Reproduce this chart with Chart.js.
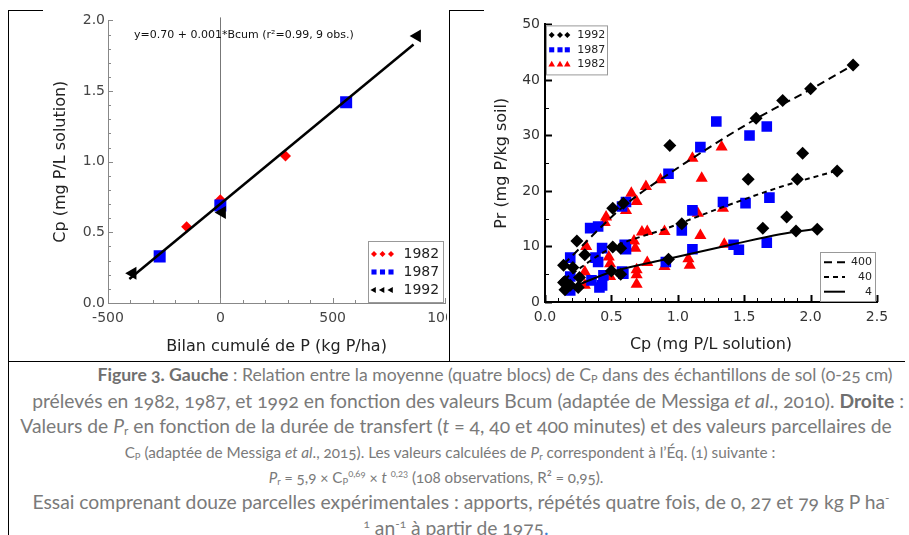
<!DOCTYPE html>
<html>
<head>
<meta charset="utf-8">
<script src="https://cdn.jsdelivr.net/npm/chart.js@4.4.1/dist/chart.umd.min.js"></script>
<style>
  html, body { margin: 0; padding: 0; background: #fff; }
  #page { position: relative; width: 909px; height: 535px; overflow: hidden; background: #fff; }
  .rule { position: absolute; background: #000; }
  .panel { position: absolute; overflow: hidden; }
  canvas { display: block; }
  .cap { position: absolute; white-space: nowrap; font-family: Lato, 'Open Sans', sans-serif; font-size: 17.5px; line-height: 26px; color: #7a7a7a; font-variant-numeric: oldstyle-nums; }
  .cap b { font-weight: 700; color: #6f6f6f; }
  .cap sub, .cap sup { font-size: 0.62em; line-height: 0; }
  .cap sub { vertical-align: -0.2em; }
  .cap sup { vertical-align: 0.6em; }
</style>
</head>
<body>
<div id="page">
  <div class="rule" style="left:8px;top:10px;width:35px;height:1px"></div>
  <div class="rule" style="left:8px;top:10px;width:1px;height:525px"></div>
  <div class="rule" style="left:449px;top:10px;width:1px;height:351px"></div>
  <div class="rule" style="left:449px;top:10px;width:35px;height:1px"></div>
  <div class="rule" style="left:8px;top:361px;width:897px;height:1px"></div>

  <div class="panel" style="left:9px;top:9px;width:438px;height:350px"><canvas id="leftChart" width="462" height="350"></canvas></div>
  <div class="panel" style="left:450px;top:11px;width:459px;height:349px"><canvas id="rightChart" width="453" height="349"></canvas></div>

  <div class="cap" data-c="495" data-w="796" data-own="1" style="top:362px"><b>Figure 3. Gauche</b> : Relation entre la moyenne (quatre blocs) de C<sub>P</sub> dans des échantillons de sol (0-25 cm)</div>
  <div class="cap" data-c="474" data-w="846" data-ref="1" style="top:388px">prélevés en 1982, 1987, et 1992 en fonction des valeurs Bcum (adaptée de Messiga <i>et al</i>., 2010). <b>Droite</b> :</div>
  <div class="cap" data-c="456" data-w="893" data-ref="1" style="top:413px">Valeurs de <i>P</i><sub>r</sub> en fonction de la durée de transfert (<i>t</i> = 4, 40 et 400 minutes) et des valeurs parcellaires de</div>
  <div class="cap" data-c="450" data-w="651" data-own="1" style="top:439px">C<sub>P</sub> (adaptée de Messiga <i>et al</i>., 2015). Les valeurs calculées de <i>P</i><sub>r</sub> correspondent à l’Éq. (1) suivante :</div>
  <div class="cap" data-c="436" data-w="335" data-own="1" style="top:464px"><i>P</i><sub>r</sub> = 5,9 × C<sub>P</sub><sup>0,69</sup> × <i>t</i> <sup>0,23</sup> (108 observations, R² = 0,95).</div>
  <div class="cap" data-c="461" data-w="863" data-ref="1" style="top:489px">Essai comprenant douze parcelles expérimentales : apports, répétés quatre fois, de 0, 27 et 79 kg P ha<sup>-</sup></div>
  <div class="cap" data-c="456" style="top:515px"><sup>1</sup> an<sup>-1</sup> à partir de 1975<span style="color:#3b7fd4">.</span></div>
</div>

<script>
// ---- left panel: mean Cp vs cumulative P balance ----
const bcum1982 = [-150, 0, 290];
const cp1982 = [0.54, 0.73, 1.04];
const bcum1987 = [-270, 0, 560];
const cp1987 = [0.33, 0.69, 1.42];
const bcum1992 = [-390, 8, 876];
const cp1992 = [0.21, 0.64, 1.89];
const fitBcum = [-405, 860];
const fitCp = [0.17, 1.83];
const fitText = 'y=0.70 + 0.001*Bcum (r²=0.99, 9 obs.)';
const bcumTicks = [-500, 0, 500, 1000];
const cpTicksLeft = [0, 0.5, 1.0, 1.5, 2.0];

// ---- right panel: Pr vs Cp per plot ----
const plotCp1992 = [2.32, 2.00, 1.79, 1.59, 0.94, 0.59, 0.51, 0.24, 0.14, 0.21,
                    2.20, 1.94, 1.90, 1.53, 1.03, 0.57, 0.51, 0.30, 0.15,
                    2.05, 1.89, 1.82, 1.64, 0.93, 0.57, 0.50, 0.26, 0.25, 0.19, 0.14, 0.15];
const plotPr1992 = [42.7, 38.4, 36.3, 33.1, 28.2, 17.8, 16.9, 11.0, 6.6, 6.2,
                    23.6, 26.8, 22.1, 22.1, 14.1, 9.7, 9.9, 8.5, 3.7,
                    13.1, 12.8, 15.3, 13.3, 7.7, 5.0, 5.6, 4.4, 2.6, 3.0, 3.5, 2.2];
const plotCp1987 = [1.29, 1.54, 1.67, 1.17, 0.93, 0.61, 0.58, 0.40, 0.34, 0.19,
                    1.69, 1.51, 1.34, 1.11, 1.03, 0.61, 0.60, 0.43, 0.38, 0.40, 0.19,
                    1.67, 1.46, 1.42, 1.11, 0.91, 0.59, 0.58, 0.44, 0.43, 0.35, 0.41, 0.19, 0.17];
const plotPr1987 = [32.5, 30.0, 31.6, 27.9, 23.1, 18.0, 17.2, 13.6, 13.3, 8.0,
                    18.8, 17.8, 18.0, 16.5, 12.9, 9.5, 10.3, 9.7, 8.0, 7.2, 4.6,
                    10.7, 9.4, 10.3, 9.5, 7.2, 5.1, 5.5, 4.8, 3.0, 3.9, 2.6, 2.1, 3.3];
const plotCp1982 = [1.33, 1.11, 0.87, 0.76, 0.65, 0.69, 0.61, 0.46, 0.45, 0.31,
                    1.18, 1.34, 1.15, 1.17, 0.90, 0.77, 0.73, 0.67, 0.68, 0.48, 0.30,
                    1.35, 1.08, 1.09, 0.77, 0.69, 0.69, 0.69, 0.90, 0.49, 0.49, 0.30];
const plotPr1982 = [27.9, 25.9, 22.0, 20.8, 19.6, 18.1, 16.5, 15.3, 14.3, 10.0,
                    22.3, 16.9, 16.0, 12.0, 12.7, 12.7, 12.6, 11.0, 9.7, 8.1, 5.4,
                    10.4, 7.8, 6.6, 7.1, 5.8, 4.9, 3.2, 6.4, 4.6, 6.9, 3.0];
const curve400Cp = [0.14, 0.60, 0.94, 1.59, 2.00, 2.33];
const curve400Pr = [6.8, 17.4, 23.2, 33.0, 38.3, 42.8];
const curve40Cp = [0.15, 0.49, 0.92, 1.34, 1.77, 2.22];
const curve40Pr = [4.2, 9.6, 13.3, 17.1, 20.7, 23.8];
const curve4Cp = [0.26, 0.50, 0.93, 1.40, 1.77, 2.05];
const curve4Pr = [3.2, 5.4, 7.8, 10.3, 12.2, 13.2];
const cpTicksRight = [0, 0.5, 1.0, 1.5, 2.0, 2.5];
const prTicks = [0, 10, 20, 30, 40, 50];

Chart.defaults.font.family = "'DejaVu Sans', Verdana, sans-serif";
Chart.defaults.animation = false;

function pairs(xs, ys) {
    return xs.map((x, i) => ({ x: x, y: ys[i] }));
}

// inward tick marks with minor steps (Chart.js has no minor ticks)
function tickMarks(cfg) {
    return {
        id: 'tickMarks',
        afterDatasetsDraw(chart) {
            const { ctx, chartArea: a, scales } = chart;
            ctx.save();
            ctx.strokeStyle = cfg.color;
            ['x', 'y'].forEach(k => {
                const s = scales[k], c = cfg[k];
                const n = Math.round((s.max - s.min) / c.minor);
                for (let i = 0; i <= n; i++) {
                    const v = s.min + i * c.minor;
                    const r = v / c.major;
                    const major = Math.abs(r - Math.round(r)) < 1e-6;
                    const len = major ? c.majorLen : c.minorLen;
                    ctx.lineWidth = major ? cfg.majorWidth : cfg.minorWidth;
                    const p = Math.round(s.getPixelForValue(v)) + 0.5;
                    ctx.beginPath();
                    if (k === 'x') { ctx.moveTo(p, a.bottom); ctx.lineTo(p, a.bottom - len); }
                    else { ctx.moveTo(a.left, p); ctx.lineTo(a.left + len, p); }
                    ctx.stroke();
                }
            });
            ctx.restore();
        }
    };
}

// boxed legends, three little markers (or a line sample) per entry
function boxLegends(boxes) {
    return {
        id: 'boxLegends',
        afterDraw(chart) {
            const { ctx, chartArea: a } = chart;
            boxes.forEach(b => {
                const left = b.right ? a.right - b.right - b.width : a.left + b.left;
                const top = b.bottom !== undefined ? a.bottom - b.bottom - b.height : a.top + b.top;
                ctx.save();
                ctx.fillStyle = '#fff';
                ctx.fillRect(left, top, b.width, b.height);
                ctx.strokeStyle = '#999';
                ctx.lineWidth = 1;
                ctx.strokeRect(left + 0.5, top + 0.5, b.width - 1, b.height - 1);
                ctx.font = b.font;
                ctx.textBaseline = 'middle';
                b.datasets.forEach((di, i) => {
                    const ds = chart.data.datasets[di];
                    const cy = top + b.row0 + i * b.rowGap;
                    if (b.lines) {
                        ctx.strokeStyle = '#000';
                        ctx.lineWidth = 2;
                        ctx.setLineDash(ds.borderDash || []);
                        ctx.beginPath();
                        ctx.moveTo(left + b.lineFrom, cy);
                        ctx.lineTo(left + b.lineTo, cy);
                        ctx.stroke();
                        ctx.setLineDash([]);
                        ctx.textAlign = 'right';
                        ctx.fillStyle = '#222';
                        ctx.fillText(ds.label, left + b.textX, cy);
                    } else {
                        ctx.fillStyle = ds.pointBackgroundColor;
                        b.marks.forEach(mx => {
                            Chart.helpers.drawPoint(ctx, {
                                pointStyle: ds.pointStyle,
                                rotation: ds.pointRotation || 0,
                                radius: b.markRadius[ds.pointStyle],
                                borderWidth: 0
                            }, left + mx, cy);
                        });
                        ctx.textAlign = 'left';
                        ctx.fillStyle = '#222';
                        ctx.fillText(ds.label, left + b.textX, cy);
                    }
                });
                ctx.restore();
            });
        }
    };
}

const zeroLine = {
    id: 'zeroLine',
    beforeDatasetsDraw(chart) {
        const { ctx, chartArea: a, scales: { x } } = chart;
        const p = Math.round(x.getPixelForValue(0)) + 0.5;
        ctx.save();
        ctx.strokeStyle = '#777';
        ctx.lineWidth = 1;
        ctx.beginPath();
        ctx.moveTo(p, a.top - 3);
        ctx.lineTo(p, a.bottom);
        ctx.stroke();
        ctx.restore();
    }
};

const fitLabel = {
    id: 'fitLabel',
    afterDatasetsDraw(chart) {
        const { ctx, chartArea: a } = chart;
        ctx.save();
        ctx.font = "11px 'DejaVu Sans'";
        ctx.fillStyle = '#111';
        ctx.textBaseline = 'middle';
        ctx.fillText(fitText, a.left + 26, a.top + 14.5);
        ctx.restore();
    }
};

let leftChart = new Chart(document.getElementById('leftChart'), {
    type: 'scatter',
    data: {
        datasets: [
            { label: 'fit', data: pairs(fitBcum, fitCp), showLine: true, borderColor: '#000', borderWidth: 2.5, pointRadius: 0, order: 0 },
            { label: '1992', data: pairs(bcum1992, cp1992), pointStyle: 'triangle', pointRotation: -90, pointRadius: 7.5,
              pointBackgroundColor: '#000', pointBorderWidth: 0, order: 1 },
            { label: '1987', data: pairs(bcum1987, cp1987), pointStyle: 'rect', pointRadius: 8.5,
              pointBackgroundColor: '#0000ff', pointBorderWidth: 0, order: 2 },
            { label: '1982', data: pairs(bcum1982, cp1982), pointStyle: 'rectRot', pointRadius: 5.5,
              pointBackgroundColor: '#ff0000', pointBorderWidth: 0, order: 3 },
        ]
    },
    options: {
        responsive: false,
        layout: { padding: { left: 0, top: 10, right: 26, bottom: 0 } },
        plugins: { legend: { display: false }, tooltip: { enabled: false } },
        scales: {
            x: {
                type: 'linear', min: -500, max: 1000,
                afterBuildTicks: s => { s.ticks = bcumTicks.map(v => ({ value: v })); },
                afterFit: s => { s.height = 56; },
                grid: { display: false, drawTicks: false },
                border: { color: '#888', width: 1 },
                ticks: { padding: 7, color: '#444', font: { size: 14 }, maxRotation: 0, autoSkip: false, callback: v => String(v) },
                title: { display: true, text: 'Bilan cumulé de P (kg P/ha)', color: '#222', font: { size: 16 }, padding: { top: 0, bottom: 3 } }
            },
            y: {
                type: 'linear', min: 0, max: 2,
                afterBuildTicks: s => { s.ticks = cpTicksLeft.map(v => ({ value: v })); },
                afterFit: s => { s.width = 99; },
                grid: { display: false, drawTicks: false },
                border: { color: '#888', width: 1 },
                ticks: { padding: 3, color: '#444', font: { size: 14 }, autoSkip: false, callback: v => v.toFixed(1) },
                title: { display: true, text: 'Cp (mg P/L solution)', color: '#222', font: { size: 16 }, padding: { top: 42, bottom: 0 } }
            }
        }
    },
    plugins: [
        zeroLine,
        fitLabel,
        tickMarks({ color: '#888', majorWidth: 1, minorWidth: 1,
                    x: { minor: 100, major: 500, majorLen: 5, minorLen: 3 },
                    y: { minor: 0.1, major: 0.5, majorLen: 5, minorLen: 3 } }),
        boxLegends([{ right: 1, bottom: 0, width: 76, height: 62, font: "14px 'DejaVu Sans'",
                      datasets: [3, 2, 1], row0: 13, rowGap: 18, marks: [6, 14.5, 23], textX: 35.5,
                      markRadius: { rectRot: 3, rect: 3.6, triangle: 3.6 } }])
    ]
});

let rightChart = new Chart(document.getElementById('rightChart'), {
    type: 'scatter',
    data: {
        datasets: [
            { label: '400', data: pairs(curve400Cp, curve400Pr), showLine: true, borderColor: '#000', borderWidth: 2,
              borderDash: [8, 5], pointRadius: 0, cubicInterpolationMode: 'monotone', order: 0 },
            { label: '40', data: pairs(curve40Cp, curve40Pr), showLine: true, borderColor: '#000', borderWidth: 2,
              borderDash: [5, 4], pointRadius: 0, cubicInterpolationMode: 'monotone', order: 0 },
            { label: '4', data: pairs(curve4Cp, curve4Pr), showLine: true, borderColor: '#000', borderWidth: 2,
              pointRadius: 0, cubicInterpolationMode: 'monotone', order: 0 },
            { label: '1992', data: pairs(plotCp1992, plotPr1992), pointStyle: 'rectRot', pointRadius: 6.5,
              pointBackgroundColor: '#000', pointBorderWidth: 0, order: 1 },
            { label: '1987', data: pairs(plotCp1987, plotPr1987), pointStyle: 'rect', pointRadius: 7.5,
              pointBackgroundColor: '#0000ff', pointBorderWidth: 0, order: 2 },
            { label: '1982', data: pairs(plotCp1982, plotPr1982), pointStyle: 'triangle', pointRadius: 7,
              pointBackgroundColor: '#ff0000', pointBorderWidth: 0, order: 3 },
        ]
    },
    options: {
        responsive: false,
        layout: { padding: { left: 0, top: 10, right: 26, bottom: 0 } },
        plugins: { legend: { display: false }, tooltip: { enabled: false } },
        scales: {
            x: {
                type: 'linear', min: 0, max: 2.5,
                afterBuildTicks: s => { s.ticks = cpTicksRight.map(v => ({ value: v })); },
                afterFit: s => { s.height = 58; },
                grid: { display: false, drawTicks: false },
                border: { color: '#000', width: 2 },
                ticks: { padding: 7, color: '#333', font: { size: 14 }, maxRotation: 0, autoSkip: false, callback: v => v.toFixed(1) },
                title: { display: true, text: 'Cp (mg P/L solution)', color: '#222', font: { size: 16 }, padding: { top: 0, bottom: 6 } }
            },
            y: {
                type: 'linear', min: 0, max: 50,
                afterBuildTicks: s => { s.ticks = prTicks.map(v => ({ value: v })); },
                afterFit: s => { s.width = 95; },
                grid: { display: false, drawTicks: false },
                border: { color: '#000', width: 2 },
                ticks: { padding: 5, color: '#333', font: { size: 14 }, autoSkip: false, callback: v => String(v) },
                title: { display: true, text: 'Pr (mg P/kg soil)', color: '#222', font: { size: 16 }, padding: { top: 42, bottom: 0 } }
            }
        }
    },
    plugins: [
        tickMarks({ color: '#000', majorWidth: 2, minorWidth: 1,
                    x: { minor: 0.1, major: 0.5, majorLen: 7, minorLen: 4 },
                    y: { minor: 5, major: 10, majorLen: 7, minorLen: 4 } }),
        boxLegends([
            { left: 1, top: 1, width: 62, height: 50, font: "11px 'DejaVu Sans'",
              datasets: [3, 4, 5], row0: 9.7, rowGap: 14.7, marks: [5.7, 14, 21.3], textX: 31.3,
              markRadius: { rectRot: 3, rect: 3.6, triangle: 3.8 } },
            { right: 1, bottom: 0, width: 56, height: 50, font: "11px 'DejaVu Sans'", lines: true,
              datasets: [0, 1, 2], row0: 10.3, rowGap: 14.7, lineFrom: 4, lineTo: 25, textX: 52 }
        ])
    ]
});

// one caption size taken from the long lines; lines marked data-own are sized to their own width in the figure
function layoutCaption() {
    const caps = Array.from(document.querySelectorAll('.cap'));
    let sum = 0, n = 0;
    caps.forEach(el => {
        el.style.fontSize = '17.5px';
        if (el.dataset.ref) { sum += +el.dataset.w / el.getBoundingClientRect().width; n++; }
    });
    const size = 17.5 * sum / n;
    caps.forEach(el => {
        if (el.dataset.own) {
            const w0 = el.getBoundingClientRect().width;
            el.style.fontSize = (17.5 * (+el.dataset.w) / w0) + 'px';
        } else {
            el.style.fontSize = size + 'px';
        }
        const w = el.getBoundingClientRect().width;
        let left = +el.dataset.c - w / 2;
        left = Math.max(10, Math.min(left, 904 - w));
        el.style.left = left + 'px';
    });
}
layoutCaption();
if (document.fonts && document.fonts.ready) document.fonts.ready.then(layoutCaption);
</script>
</body>
</html>
